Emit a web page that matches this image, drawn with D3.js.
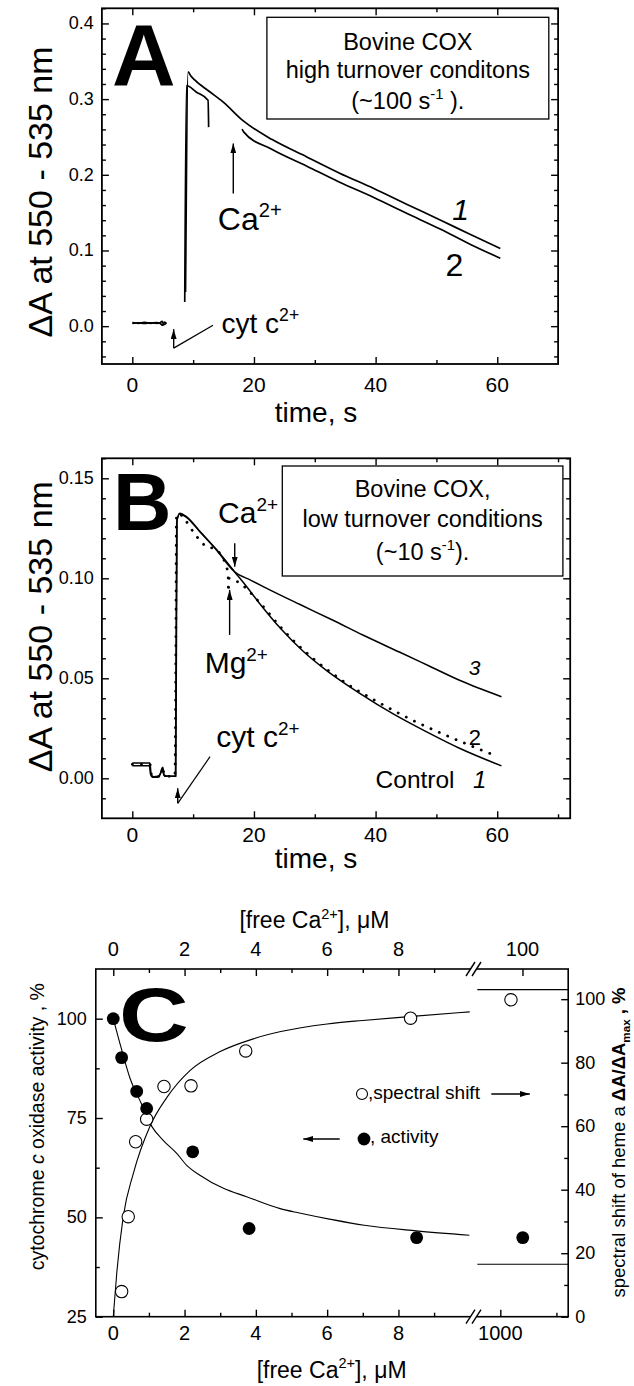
<!DOCTYPE html>
<html>
<head>
<meta charset="utf-8">
<script src="https://cdn.jsdelivr.net/npm/d3@7"></script>
<style>
  body { margin: 0; background: #fff; }
  svg { display: block; font-family: "Liberation Sans", Arial, Helvetica, sans-serif; }
</style>
</head>
<body>
<svg id="fig" width="634" height="1386"></svg>
<script>
//------------------------------------------------------------------------------
// Data
//------------------------------------------------------------------------------

// Panel A : high turnover, [time s, dA]
var timeTicks = [0, 20, 40, 60];
var absTicksA = [0.0, 0.1, 0.2, 0.3, 0.4];
var traceA1 = [[0,0.0035],[1,0.0045],[2,0.0035],[3,0.0045],[4,0.0038],[4.5,0.0042],[4.9,0.0065],[5.2,0.002],[5.6,0.0042], null,
  [8.75,0.045],[9.18,0.336],[9.6,0.331],[10.3,0.325],[12.5,0.311],[14.95,0.296],[18.25,0.2712],[23,0.2465],[28.7,0.2236],
  [34,0.2025],[39.7,0.1819],[45,0.1615],[50.7,0.140],[55.6,0.121],[60.5,0.1026]];
var traceA2 = [[0,0.0048],[1,0.0038],[2,0.005],[3,0.0038],[4,0.0048],[4.6,0.0035],[5.0,0.0012],[5.3,0.0055],[5.6,0.0038], null,
  [8.62,0.032],[8.9,0.318],[10.5,0.3095],[12.45,0.2986],[12.55,0.263], null,
  [18.05,0.2605],[18.3,0.2567],[23,0.2335],[28.7,0.2114],[34,0.1905],[39.7,0.170],[45,0.1495],[50.7,0.128],[55.6,0.108],[60.5,0.0898]];

// Panel B : low turnover
var absTicksB = [0.00, 0.05, 0.10, 0.15];
var traceB1 = [[0,0.0063],[2.8,0.0063],[3.0,0.002],[3.3,0.0005],[4.2,0.0005],[4.6,0.002],[4.9,0.005],[5.2,0.0015],[6,0.001],[7.1,0.001],
  [7.3,0.128],[7.8,0.1325],[8.9,0.1308],[11.1,0.1235],[13.8,0.1145],[16.8,0.1033],[18.5,0.097],[20.7,0.0883],[24.5,0.0745],
  [28,0.0638],[31.9,0.054],[37.4,0.0425],[42.9,0.0322],[48.4,0.0232],[53.8,0.015],[60.7,0.0062]];
var traceB3 = [[0,0.0076],[2.9,0.0076],[3.1,0.002],[3.5,0.0008],[4.3,0.001],[4.7,0.003],[5.0,0.0055],[5.3,0.001],[7.15,0.0012],
  [7.35,0.129],[7.8,0.1322],[8.9,0.1305],[11.1,0.1233],[13.8,0.1143],[16.8,0.1033],[19.5,0.099],[22.1,0.095],[27.5,0.087],
  [33,0.079],[38,0.0715],[44,0.063],[48.9,0.056],[53.8,0.049],[60.7,0.0408]];
var traceB2 = [[0,0.007],[2.9,0.007],[3.2,0.0012],[4.5,0.001],[5.0,0.004],[5.4,0.001],[7.0,0.001],[7.15,0.06],[7.25,0.13],[7.6,0.1325],
  [8.6,0.1295],[10.2,0.1225],[11.9,0.1165],[13.8,0.1142],[15.6,0.1045],[15.75,0.1018],[15.8,0.0933],[15.9,0.100],[17.7,0.0975],
  [20.7,0.0887],[24.5,0.0752],[28.1,0.0642],[30,0.0592],[32,0.0544],[34,0.0500],[35.9,0.0460],[37.9,0.0424],[40,0.0388],
  [41.9,0.0356],[43.9,0.0324],[45.9,0.0293],[48.1,0.0262],[50.3,0.0232],[52.4,0.0204],[54.7,0.0175],[57,0.0146],[59,0.0122]];

// Panel C : Ca2+ titration
var caTicks = [0, 2, 4, 6, 8];
var caTicksHighBottom = [1000];
var caTicksHighTop = [100];
var activityTicks = [25, 50, 75, 100];
var shiftTicks = [0, 20, 40, 60, 80, 100];
var caActivity = [0, 0.235, 0.657, 0.937, 2.228, 3.81, 8.51];
var activity = [100, 90.2, 81.7, 77.4, 66.5, 47.2, 44.9];
var caShift = [0.235, 0.42, 0.628, 0.937, 1.423, 2.181, 3.716, 8.34];
var shift = [7.9, 31.5, 55.1, 62.2, 72.5, 72.7, 83.7, 94];
var caHighActivity = [1040], activityHigh = [44.9];
var caHighShift = [1019], shiftHigh = [99.8];
var fitActX = [0, 0.15, 0.47, 0.8, 1.08, 1.4, 1.78, 2.06, 2.43, 3.09, 3.74, 4.68, 5.22, 6.1, 7.04, 8.5, 9.99];
var fitAct = [100, 95, 85, 78.4, 72.9, 69.4, 66.1, 63.1, 60.6, 57.3, 55.2, 52.2, 51.1, 49.5, 48.0, 46.6, 45.5];
var fitShiftX = [0, 0.1, 0.28, 0.56, 1.03, 1.5, 2.15, 3.0, 3.93, 4.7, 6.0, 7.0, 8.3, 10.0];
var fitShift = [0, 14, 31.5, 45, 60, 69, 77.5, 83.5, 87.5, 89.8, 92.2, 93.3, 94.5, 96];
var asymptoteShift = 103;
var asymptoteActivity = 38.2;

//------------------------------------------------------------------------------
// Helpers
//------------------------------------------------------------------------------

var svg = d3.select("#fig");
svg.append("rect").attr("width", 634).attr("height", 1386).attr("fill", "#fff");

var defs = svg.append("defs");
defs.append("marker")
  .attr("id", "arrow")
  .attr("viewBox", "0 0 10 6")
  .attr("refX", 10).attr("refY", 3)
  .attr("markerWidth", 10).attr("markerHeight", 6)
  .attr("markerUnits", "userSpaceOnUse")
  .attr("orient", "auto")
  .append("path").attr("d", "M0,0L10,3L0,6z").attr("fill", "#000");

// parts: [{t:"Ca"},{t:"2+",sup:1}] ; sup / sub / bold / italic
function richText(g, x, y, parts, size, anchor, rotate) {
  var text = g.append("text")
    .attr("x", x).attr("y", y)
    .attr("font-size", size)
    .attr("text-anchor", anchor || "start");
  if(rotate) text.attr("transform", "rotate(-90," + x + "," + y + ")");
  var shift = 0;
  parts.forEach(function(p) {
    var ts = text.append("tspan").text(p.t);
    var want = p.sup ? -size * 0.42 : (p.sub ? size * 0.25 : 0);
    if(want != shift) { ts.attr("dy", want - shift); shift = want; }
    if(p.sup || p.sub) ts.attr("font-size", size * 0.63);
    if(p.bold) ts.attr("font-weight", "bold");
    if(p.italic) ts.attr("font-style", "italic");
  });
  return text;
}

function tickAxis(g, axisFn, scale, values, size, transform) {
  var ax = axisFn(scale).tickValues(values).tickSizeInner(-size).tickSizeOuter(0).tickFormat("");
  var sel = g.append("g").attr("transform", transform).call(ax);
  sel.select(".domain").remove();
  sel.selectAll("text").remove();
  sel.selectAll("line").attr("stroke", "#000").attr("stroke-width", 1.4);
}

function lineGen(x, y) {
  return d3.line()
    .defined(function(d) { return d !== null; })
    .x(function(d) { return x(d[0]); })
    .y(function(d) { return y(d[1]); })
    .curve(d3.curveMonotoneX);
}

function arrow(g, x1, y1, x2, y2) {
  g.append("line")
    .attr("x1", x1).attr("y1", y1).attr("x2", x2).attr("y2", y2)
    .attr("stroke", "#000").attr("stroke-width", 1.4)
    .attr("marker-end", "url(#arrow)");
}

function frame(g, x, y, w) {
  var x0 = x.range()[0], x1 = x.range()[1];
  var y0 = y.range()[0], y1 = y.range()[1];
  g.append("rect")
    .attr("x", x0).attr("y", y1).attr("width", x1 - x0).attr("height", y0 - y1)
    .attr("fill", "none").attr("stroke", "#000").attr("stroke-width", w || 1.8);
}

function minorBetween(lo, hi, step, majors) {
  return d3.range(Math.round(lo / step), Math.round(hi / step) + 1)
    .map(function(i) { return +(i * step).toFixed(4); })
    .filter(function(v) { return majors.indexOf(v) < 0; });
}

//------------------------------------------------------------------------------
// Kinetic panels (A, B)
//------------------------------------------------------------------------------

function kineticAxes(g, x, y, yTicks, yMinor, yFmt, xLabelY, titleY, axisTitleY) {
  var x0 = x.range()[0], x1 = x.range()[1];
  var y0 = y.range()[0], y1 = y.range()[1];
  var xMinor = [10, 30, 50].concat(x.domain()[1] > 70.5 ? [70] : []);

  tickAxis(g, d3.axisBottom, x, timeTicks, 7, "translate(0," + y0 + ")");
  tickAxis(g, d3.axisBottom, x, xMinor, 4, "translate(0," + y0 + ")");
  tickAxis(g, d3.axisTop, x, timeTicks, 7, "translate(0," + y1 + ")");
  tickAxis(g, d3.axisTop, x, xMinor, 4, "translate(0," + y1 + ")");
  tickAxis(g, d3.axisLeft, y, yTicks, 7, "translate(" + x0 + ",0)");
  tickAxis(g, d3.axisLeft, y, yMinor, 4, "translate(" + x0 + ",0)");
  tickAxis(g, d3.axisRight, y, yTicks, 7, "translate(" + x1 + ",0)");
  tickAxis(g, d3.axisRight, y, yMinor, 4, "translate(" + x1 + ",0)");
  frame(g, x, y, 1.8);

  g.selectAll(".xl").data(timeTicks).enter().append("text")
    .attr("x", function(d) { return x(d); }).attr("y", xLabelY)
    .attr("text-anchor", "middle").attr("font-size", 21)
    .text(function(d) { return d; });
  g.selectAll(".yl").data(yTicks).enter().append("text")
    .attr("x", x0 - 8).attr("y", function(d) { return y(d) + 6; })
    .attr("text-anchor", "end").attr("font-size", 18)
    .text(yFmt);

  g.append("text").attr("x", 316).attr("y", axisTitleY)
    .attr("text-anchor", "middle").attr("font-size", 28).text("time, s");
  richText(g, 52, titleY, [{t: "\u0394A at 550 - 535 nm"}], 34, "middle", true);
}

function legendBox(g, x0, y0, x1, y1, lines) {
  g.append("rect").attr("x", x0).attr("y", y0).attr("width", x1 - x0).attr("height", y1 - y0)
    .attr("fill", "#fff").attr("stroke", "#000").attr("stroke-width", 1.3);
  lines.forEach(function(l) {
    richText(g, (x0 + x1) / 2, l.y, l.parts, 23.5, "middle");
  });
}

// ---- Panel A ----
var xA = d3.scaleLinear().domain([-5, 70]).range([101.9, 558.1]);
var yA = d3.scaleLinear().domain([-0.05, 0.42]).range([364, 8.3]);
var gA = svg.append("g");

legendBox(gA, 266.9, 17.3, 548.8, 119, [
  {y: 50, parts: [{t: "Bovine COX"}]},
  {y: 78.3, parts: [{t: "high turnover conditons"}]},
  {y: 109, parts: [{t: "(~100 s"}, {t: "-1", sup: 1}, {t: " )."}]}
]);

gA.selectAll(".trace").data([traceA1, traceA2]).enter().append("path")
  .attr("d", lineGen(xA, yA))
  .attr("fill", "none").attr("stroke", "#000").attr("stroke-width", 1.7);

kineticAxes(gA, xA, yA, absTicksA, minorBetween(-0.04, 0.42, 0.02, absTicksA), d3.format(".1f"), 391.7, 192, 421.7);

gA.append("text").attr("x", 112).attr("y", 85).attr("font-size", 88).attr("font-weight", "bold").text("A");

arrow(gA, xA(16.6), yA(0.1753), xA(16.6), yA(0.2414));
richText(gA, xA(14.05), yA(0.127), [{t: "Ca"}, {t: "2+", sup: 1}], 32);
gA.append("line").attr("x1", xA(6.8)).attr("y1", yA(-0.029)).attr("x2", xA(13.27)).attr("y2", yA(0.0013))
  .attr("stroke", "#000").attr("stroke-width", 1.2);
arrow(gA, xA(6.8), yA(-0.029), xA(6.8), yA(-0.004));
richText(gA, xA(14.67), yA(-0.0093), [{t: "cyt c"}, {t: "2+", sup: 1}], 28);
gA.append("text").attr("x", xA(52.6)).attr("y", yA(0.1406)).attr("font-size", 30).attr("font-style", "italic").text("1");
gA.append("text").attr("x", xA(51.5)).attr("y", yA(0.066)).attr("font-size", 32).text("2");

// ---- Panel B ----
var xB = d3.scaleLinear().domain([-5, 72]).range([101.9, 570.2]);
var yB = d3.scaleLinear().domain([-0.02, 0.16]).range([818.3, 458.3]);
var gB = svg.append("g");

legendBox(gB, 282.3, 466, 562.9, 576, [
  {y: 497.3, parts: [{t: "Bovine COX,"}]},
  {y: 527.3, parts: [{t: "low turnover conditions"}]},
  {y: 560, parts: [{t: "(~10 s"}, {t: "-1", sup: 1}, {t: ")."}]}
]);

gB.append("path").datum(traceB2)
  .attr("d", lineGen(xB, yB))
  .attr("fill", "none").attr("stroke", "#000").attr("stroke-width", 2.8)
  .attr("stroke-linecap", "round").attr("stroke-dasharray", "0.1,9");
gB.selectAll(".trace").data([traceB1, traceB3]).enter().append("path")
  .attr("d", lineGen(xB, yB))
  .attr("fill", "none").attr("stroke", "#000").attr("stroke-width", 1.5);

kineticAxes(gB, xB, yB, absTicksB, minorBetween(-0.01, 0.16, 0.01, absTicksB), d3.format(".2f"), 841.7, 626.7, 868.3);

gB.append("text").attr("x", 113).attr("y", 530).attr("font-size", 81).attr("font-weight", "bold").text("B");

richText(gB, xB(14.1), yB(0.1275), [{t: "Ca"}, {t: "2+", sup: 1}], 30);
arrow(gB, xB(16.84), yB(0.1175), xB(16.84), yB(0.1058));
richText(gB, xB(11.9), yB(0.0525), [{t: "Mg"}, {t: "2+", sup: 1}], 30);
arrow(gB, xB(16.0), yB(0.0717), xB(16.0), yB(0.0942));
gB.append("line").attr("x1", xB(7.47)).attr("y1", yB(-0.0125)).attr("x2", xB(12.78)).attr("y2", yB(0.0108))
  .attr("stroke", "#000").attr("stroke-width", 1.2);
arrow(gB, xB(7.47), yB(-0.0125), xB(7.47), yB(-0.005));
richText(gB, xB(13.8), yB(0.0155), [{t: "cyt c"}, {t: "2+", sup: 1}], 30);
gB.append("text").attr("x", xB(55.3)).attr("y", yB(0.0517)).attr("font-size", 21).attr("font-style", "italic").text("3");
gB.append("text").attr("x", xB(55.3)).attr("y", yB(0.0167)).attr("font-size", 22).text("2");
gB.append("text").attr("x", xB(40)).attr("y", yB(-0.0049)).attr("font-size", 24.5).text("Control");
gB.append("text").attr("x", xB(56)).attr("y", yB(-0.0049)).attr("font-size", 24).attr("font-style", "italic").text("1");

//------------------------------------------------------------------------------
// Panel C
//------------------------------------------------------------------------------

var xC = d3.scaleLinear().domain([-0.49, 10.1]).range([95.8, 473.3]);
var xCR = d3.scaleLinear().domain([959, 1121]).range([477.3, 568.2]);
var xCRtop = d3.scaleLinear().domain([92, 108.1]).range([477.3, 568.2]);
var yCL = d3.scaleLinear().domain([25, 112.5]).range([1316.7, 969]);
var yCR = d3.scaleLinear().domain([0, 109.5]).range([1316.7, 969]);
var gC = svg.append("g");
var cTop = 969, cBottom = 1316.7, cLeft = 95.8, cRight = 568.2;

tickAxis(gC, d3.axisBottom, xC, caTicks, 7, "translate(0," + cBottom + ")");
tickAxis(gC, d3.axisBottom, xC, [1, 3, 5, 7, 9], 4, "translate(0," + cBottom + ")");
tickAxis(gC, d3.axisTop, xC, caTicks, 7, "translate(0," + cTop + ")");
tickAxis(gC, d3.axisTop, xC, [1, 3, 5, 7, 9], 4, "translate(0," + cTop + ")");
tickAxis(gC, d3.axisBottom, xCR, caTicksHighBottom, 7, "translate(0," + cBottom + ")");
tickAxis(gC, d3.axisBottom, xCR, [1100], 4, "translate(0," + cBottom + ")");
tickAxis(gC, d3.axisTop, xCRtop, caTicksHighTop, 7, "translate(0," + cTop + ")");
tickAxis(gC, d3.axisLeft, yCL, activityTicks, 7, "translate(" + cLeft + ",0)");
tickAxis(gC, d3.axisLeft, yCL, [37.5, 62.5, 87.5], 4, "translate(" + cLeft + ",0)");
tickAxis(gC, d3.axisRight, yCR, shiftTicks, 7, "translate(" + cRight + ",0)");
tickAxis(gC, d3.axisRight, yCR, [10, 30, 50, 70, 90], 4, "translate(" + cRight + ",0)");
gC.append("rect").attr("x", cLeft).attr("y", cTop).attr("width", cRight - cLeft).attr("height", cBottom - cTop)
  .attr("fill", "none").attr("stroke", "#000").attr("stroke-width", 1.6);

// axis breaks
[cTop, cBottom].forEach(function(yy) {
  gC.append("polygon")
    .attr("points", [[467, yy + 6], [475, yy - 7], [481, yy - 7], [473, yy + 6]].join(" "))
    .attr("fill", "#fff");
  [0, 6].forEach(function(dx) {
    gC.append("line").attr("x1", 466 + dx).attr("y1", yy + 7).attr("x2", 475 + dx).attr("y2", yy - 7)
      .attr("stroke", "#000").attr("stroke-width", 1.4);
  });
});

// tick labels
gC.selectAll(".bl").data(caTicks).enter().append("text")
  .attr("x", function(d) { return xC(d); }).attr("y", 1340)
  .attr("text-anchor", "middle").attr("font-size", 20).text(function(d) { return d; });
gC.selectAll(".blr").data(caTicksHighBottom).enter().append("text")
  .attr("x", function(d) { return xCR(d); }).attr("y", 1340)
  .attr("text-anchor", "middle").attr("font-size", 20).text(function(d) { return d; });
gC.selectAll(".tl").data(caTicks).enter().append("text")
  .attr("x", function(d) { return xC(d); }).attr("y", 956)
  .attr("text-anchor", "middle").attr("font-size", 20).text(function(d) { return d; });
gC.selectAll(".tlr").data(caTicksHighTop).enter().append("text")
  .attr("x", function(d) { return xCRtop(d); }).attr("y", 956)
  .attr("text-anchor", "middle").attr("font-size", 20).text(function(d) { return d; });
gC.selectAll(".ll").data(activityTicks).enter().append("text")
  .attr("x", cLeft - 9).attr("y", function(d) { return yCL(d) + 6; })
  .attr("text-anchor", "end").attr("font-size", 18).text(function(d) { return d; });
gC.selectAll(".rl").data(shiftTicks).enter().append("text")
  .attr("x", cRight + 7).attr("y", function(d) { return yCR(d) + 6; })
  .attr("text-anchor", "start").attr("font-size", 18).text(function(d) { return d; });

// titles
richText(gC, 314.4, 928.3, [{t: "[free Ca"}, {t: "2+", sup: 1}, {t: "], \u03bcM"}], 23, "middle");
richText(gC, 331.6, 1378, [{t: "[free Ca"}, {t: "2+", sup: 1}, {t: "], \u03bcM"}], 23, "middle");
richText(gC, 44, 1126.7, [{t: "cytochrome "}, {t: "c", italic: 1}, {t: " oxidase activity ,  %"}], 19.5, "middle", true);
richText(gC, 625, 1142.5, [{t: "spectral shift of heme a  "}, {t: "\u0394A/\u0394A", bold: 1}, {t: "max", sub: 1, bold: 1}, {t: " , %", bold: 1}], 18.5, "middle", true);

gC.append("text").attr("x", 0).attr("y", 0)
  .attr("transform", "translate(119,1041) scale(1.27,1)")
  .attr("font-size", 76).attr("font-weight", "bold").text("C");

// fitted curves
var fitLine = d3.line().curve(d3.curveMonotoneX);
gC.append("path")
  .attr("d", fitLine(fitActX.map(function(v, i) { return [xC(v), yCL(fitAct[i])]; })))
  .attr("fill", "none").attr("stroke", "#000").attr("stroke-width", 1.1);
gC.append("path")
  .attr("d", fitLine(fitShiftX.map(function(v, i) { return [xC(v), yCR(fitShift[i])]; })))
  .attr("fill", "none").attr("stroke", "#000").attr("stroke-width", 1.1);
[yCR(asymptoteShift), yCL(asymptoteActivity)].forEach(function(yy) {
  gC.append("line").attr("x1", xCR(959)).attr("x2", xCR(1121)).attr("y1", yy).attr("y2", yy)
    .attr("stroke", "#000").attr("stroke-width", 1.1);
});

// points
var open = caShift.map(function(v, i) { return [xC(v), yCR(shift[i])]; })
  .concat(caHighShift.map(function(v, i) { return [xCR(v), yCR(shiftHigh[i])]; }));
var filled = caActivity.map(function(v, i) { return [xC(v), yCL(activity[i])]; })
  .concat(caHighActivity.map(function(v, i) { return [xCR(v), yCL(activityHigh[i])]; }));
gC.selectAll(".open").data(open).enter().append("circle")
  .attr("cx", function(d) { return d[0]; }).attr("cy", function(d) { return d[1]; })
  .attr("r", 6.2).attr("fill", "#fff").attr("stroke", "#000").attr("stroke-width", 1.1);
gC.selectAll(".filled").data(filled).enter().append("circle")
  .attr("cx", function(d) { return d[0]; }).attr("cy", function(d) { return d[1]; })
  .attr("r", 6.4).attr("fill", "#000");

// legend
gC.append("circle").attr("cx", 362).attr("cy", 1094).attr("r", 5.5)
  .attr("fill", "#fff").attr("stroke", "#000").attr("stroke-width", 1.1);
gC.append("text").attr("x", 368).attr("y", 1099.3).attr("font-size", 19).text(",spectral shift");
arrow(gC, 491.3, 1094, 529.8, 1094);
gC.append("circle").attr("cx", 364).attr("cy", 1139).attr("r", 6.4).attr("fill", "#000");
gC.append("text").attr("x", 370).attr("y", 1143.3).attr("font-size", 19).text(", activity");
arrow(gC, 339.7, 1139, 303.3, 1139);
</script>
</body>
</html>
